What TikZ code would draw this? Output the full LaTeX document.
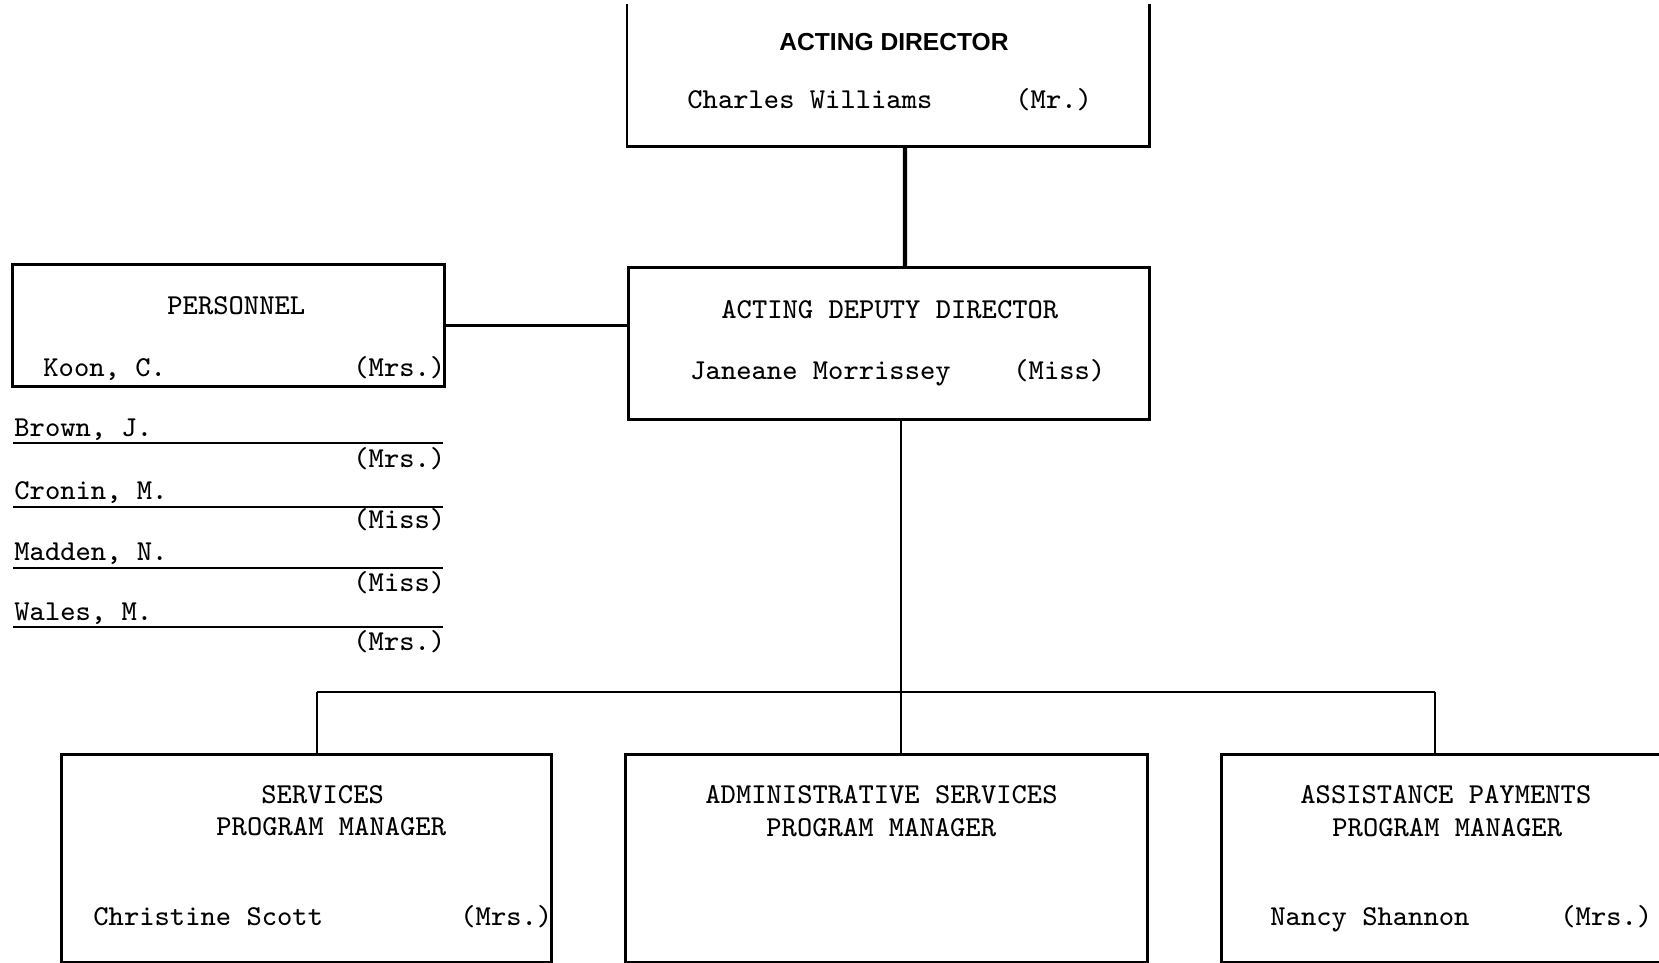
\documentclass[tikz,border=0pt]{standalone}
\usepackage{fontspec}
\newfontfamily\headf{Liberation Sans}
\usetikzlibrary{positioning}

\begin{document}
\begin{tikzpicture}[x=0.01cm,y=-0.01cm,thick,
		box/.style={draw,thick,rectangle,inner sep=0pt,anchor=north west},
		txt/.style={anchor=base west,inner sep=0pt,font=\ttfamily\fontsize{8.2}{9}\selectfont},
		head/.style={inner sep=0pt,font=\headf\bfseries\fontsize{7}{8}\selectfont}]
		\useasboundingbox (0,0) rectangle (1659,963);

		% boxes
		\node[box,draw=none,minimum width=5.19cm,minimum height=1.40cm] (dir) at (627,4) {};
		\node[box,minimum width=5.21cm,minimum height=1.52cm] (dep) at (627,266) {};
		\node[box,minimum width=4.32cm,minimum height=1.22cm] (pers) at (11,263) {};
		\node[box,minimum width=4.90cm,minimum height=2.08cm] (serv) at (60,753) {};
		\node[box,minimum width=5.22cm,minimum height=2.08cm] (adm) at (624,753) {};
		\node[box,minimum width=4.60cm,minimum height=2.08cm] (asst) at (1220,753) {};
		\draw (dir.north west) -- (dir.south west) -- (dir.south east) -- (dir.north east);

		% texts
		\node[head] (dirt) at (894,42) {ACTING DIRECTOR};
		\node[txt] (dirn) at (686,108) {Charles Williams};
		\node[txt] (dirm) at (1014,108) {(Mr.)};
		\node[txt] (dept) at (720,318) {ACTING DEPUTY DIRECTOR};
		\node[txt] (depn) at (689,379) {Janeane Morrissey};
		\node[txt] (depm) at (1012,379) {(Miss)};
		\node[txt] (perst) at (166,314) {PERSONNEL};
		\node[txt] (persn) at (42,376) {Koon, C.};
		\node[txt] (persm) at (352,376) {(Mrs.)};
		\node[txt] (brown) at (13,436) {Brown, J.};
		\node[txt] (brownm) at (352,467) {(Mrs.)};
		\node[txt] (cronin) at (13,499) {Cronin, M.};
		\node[txt] (croninm) at (352,528) {(Miss)};
		\node[txt] (madden) at (13,560) {Madden, N.};
		\node[txt] (maddenm) at (352,591) {(Miss)};
		\node[txt] (wales) at (13,620) {Wales, M.};
		\node[txt] (walesm) at (352,650) {(Mrs.)};
		\node[txt] (servt) at (260,803) {SERVICES};
		\node[txt] (servp) at (215,835) {PROGRAM MANAGER};
		\node[txt] (servn) at (92,925) {Christine Scott};
		\node[txt] (servm) at (459,925) {(Mrs.)};
		\node[txt] (admt) at (704,803) {ADMINISTRATIVE SERVICES};
		\node[txt] (admp) at (765,836) {PROGRAM MANAGER};
		\node[txt] (asstt) at (1299,803) {ASSISTANCE PAYMENTS};
		\node[txt] (asstp) at (1331,836) {PROGRAM MANAGER};
		\node[txt] (asstn) at (1269,925) {Nancy Shannon};
		\node[txt] (asstm) at (1559,925) {(Mrs.)};

		% staff lines
		\draw (13,443) -- (443,443);
		\draw (13,507) -- (443,507);
		\draw (13,568) -- (443,568);
		\draw (13,627) -- (443,627);

		% connectors
		\coordinate (bus) at (901,692);
		\coordinate (busL) at (317,692);
		\coordinate (busR) at (1435,692);
		\draw[line width=1.2pt] ([xshift=0.17cm]dir.south) -- ([xshift=0.16cm]dep.north);
		\draw (pers.east) -- (pers.east -| dep.west);
		\draw (dep.south -| bus) -- (bus);
		\draw (busL) -- (busR);
		\draw (busL) -- (busL |- serv.north);
		\draw (bus) -- (bus |- adm.north);
		\draw (busR) -- (busR |- asst.north);
\end{tikzpicture}
\end{document}
